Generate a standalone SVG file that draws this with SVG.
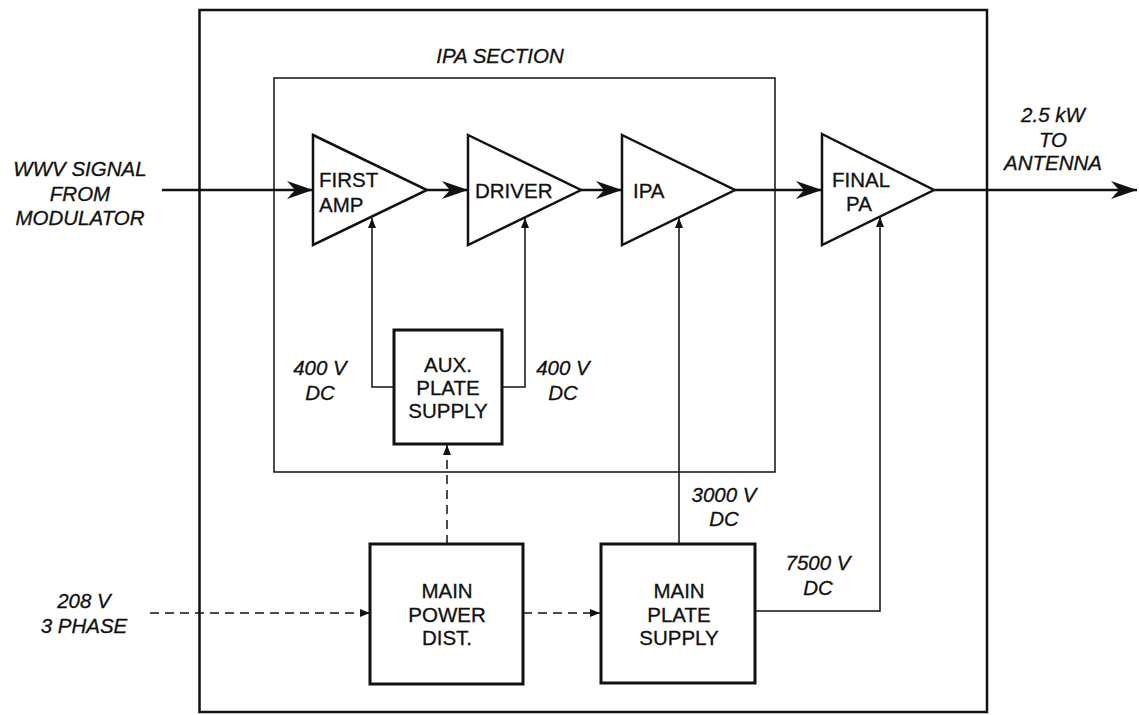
<svg xmlns="http://www.w3.org/2000/svg" width="1139" height="715" viewBox="0 0 1139 715">
<style>
.lbl{font-family:"Liberation Sans",Arial,sans-serif;font-size:20.5px;font-style:italic;fill:#111;stroke:#111;stroke-width:0.3;text-anchor:middle}
.nt{font-family:"Liberation Sans",Arial,sans-serif;font-size:20.5px;fill:#111;stroke:#111;stroke-width:0.3}
.c{text-anchor:middle}
.box{fill:none;stroke:#111;stroke-width:3}
.tri{fill:#fff;stroke:#111;stroke-width:2.5;stroke-linejoin:miter}
.sig{fill:none;stroke:#111;stroke-width:2.5}
.thin{fill:none;stroke:#111;stroke-width:1.5}
.dash{fill:none;stroke:#111;stroke-width:1.5;stroke-dasharray:9,6}
</style>
<defs>
<marker id="big" markerUnits="userSpaceOnUse" markerWidth="28" markerHeight="20" refX="26" refY="9" orient="auto">
<path d="M0,0 L26,9 L0,18 L8,9 Z" fill="#111"/>
</marker>
<marker id="small" markerUnits="userSpaceOnUse" markerWidth="11" markerHeight="9" refX="10" refY="4" orient="auto">
<path d="M0,0 L10,4 L0,8 Z" fill="#111"/>
</marker>
</defs>
<rect width="1139" height="715" fill="#fff"/>
<g id="outer">
<rect x="199.5" y="10" width="787.5" height="702" fill="none" stroke="#111" stroke-width="2.5"/>
</g>
<g id="ipa-section">
<rect x="274" y="78" width="501" height="394" fill="none" stroke="#111" stroke-width="1.5"/>
<text class="lbl" x="500" y="63">IPA SECTION</text>
</g>
<g id="connectors">
<path class="sig" d="M162,190 H313" marker-end="url(#big)"/>
<path class="sig" d="M427,190 H468" marker-end="url(#big)"/>
<path class="sig" d="M581,190 H622" marker-end="url(#big)"/>
<path class="sig" d="M735,190 H822" marker-end="url(#big)"/>
<path class="sig" d="M934,190 H1137" marker-end="url(#big)"/>
<path class="thin" d="M394,387 H372 V218" marker-end="url(#small)"/>
<path class="thin" d="M502,387 H525 V218" marker-end="url(#small)"/>
<path class="thin" d="M679,543 V218" marker-end="url(#small)"/>
<path class="thin" d="M755,611 H880 V217" marker-end="url(#small)"/>
<path class="dash" d="M150,613 H370" marker-end="url(#small)"/>
<path class="dash" d="M523,613 H600" marker-end="url(#small)"/>
<path class="dash" d="M447,544 V445" marker-end="url(#small)"/>
</g>
<g id="first-amp">
<polygon class="tri" points="313,135 427,190 313,245"/>
<text class="nt" x="319" y="187">FIRST</text>
<text class="nt" x="319" y="212">AMP</text>
</g>
<g id="driver">
<polygon class="tri" points="468,135 581,190 468,245"/>
<text class="nt" x="475" y="198">DRIVER</text>
</g>
<g id="ipa">
<polygon class="tri" points="622,135 735,190 622,245"/>
<text class="nt" x="633" y="198">IPA</text>
</g>
<g id="final-pa">
<polygon class="tri" points="822,134 934,190 822,245"/>
<text class="nt c" x="861" y="187">FINAL</text>
<text class="nt c" x="859" y="211">PA</text>
</g>
<g id="aux-plate-supply">
<rect class="box" x="394" y="330" width="108" height="114" stroke-width="2.5"/>
<text class="nt c" x="448" y="372">AUX.</text>
<text class="nt c" x="448" y="395">PLATE</text>
<text class="nt c" x="448" y="418">SUPPLY</text>
</g>
<g id="main-power-dist">
<rect class="box" x="370" y="544" width="153" height="140"/>
<text class="nt c" x="447" y="598">MAIN</text>
<text class="nt c" x="447" y="622">POWER</text>
<text class="nt c" x="447" y="645">DIST.</text>
</g>
<g id="main-plate-supply">
<rect class="box" x="601" y="544" width="154" height="139"/>
<text class="nt c" x="679" y="598">MAIN</text>
<text class="nt c" x="679" y="622">PLATE</text>
<text class="nt c" x="679" y="645">SUPPLY</text>
</g>
<g id="labels">
<text class="lbl" x="80" y="176">WWV SIGNAL</text>
<text class="lbl" x="80" y="201">FROM</text>
<text class="lbl" x="80" y="225">MODULATOR</text>
<text class="lbl" x="1053" y="122">2.5 kW</text>
<text class="lbl" x="1053" y="147">TO</text>
<text class="lbl" x="1053" y="170">ANTENNA</text>
<text class="lbl" x="320" y="375">400 V</text>
<text class="lbl" x="320" y="400">DC</text>
<text class="lbl" x="563" y="375">400 V</text>
<text class="lbl" x="563" y="400">DC</text>
<text class="lbl" x="724" y="502">3000 V</text>
<text class="lbl" x="724" y="526">DC</text>
<text class="lbl" x="818" y="570">7500 V</text>
<text class="lbl" x="818" y="595">DC</text>
<text class="lbl" x="84" y="608">208 V</text>
<text class="lbl" x="84" y="633">3 PHASE</text>
</g>
</svg>
